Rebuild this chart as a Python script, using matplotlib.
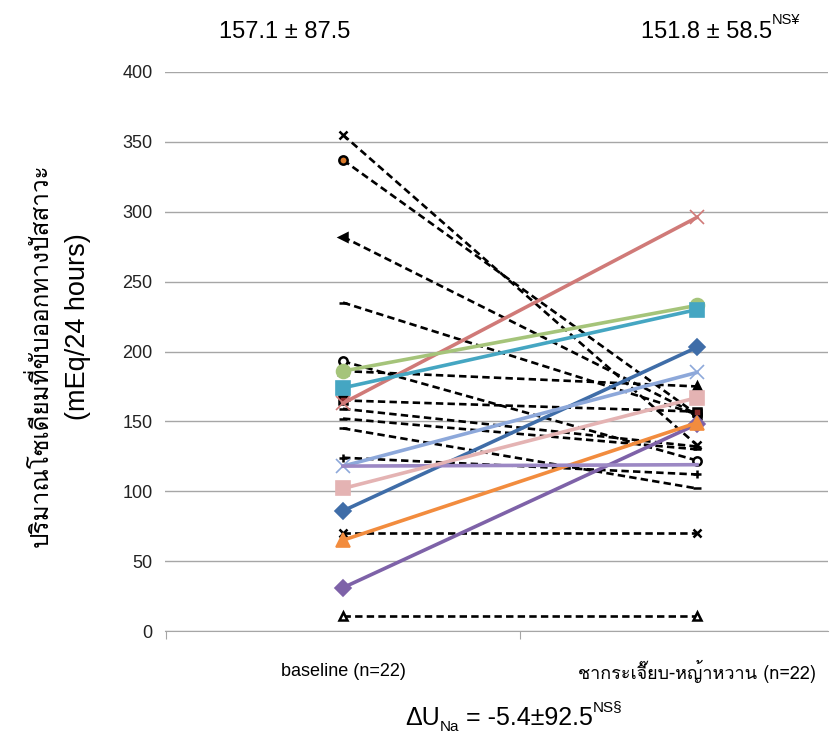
import matplotlib
matplotlib.use("Agg")
import matplotlib.pyplot as plt
from matplotlib import font_manager, ft2font
from matplotlib.transforms import IdentityTransform

# ---------------- data ----------------
categories = ["baseline (n=22)", "ชากระเจี๊ยบ-หญ้าหวาน (n=22)"]
yticks = [0, 50, 100, 150, 200, 250, 300, 350, 400]

# solid coloured series (baseline, after)
s_blue = [86, 203]
s_red = [163, 296]
s_green = [186, 233]
s_purple = [31, 148]
s_teal = [174, 230]
s_orange = [65, 149]
s_lightblue = [118, 185]
s_lightpurple = [118, 119]
s_pink = [102, 167]

# dashed black series (baseline, after)
d1 = [355, 133]
d2 = [337, 155]
d3 = [282, 155]
d4 = [235, 155]
d5 = [193, 122]
d6 = [186, 175]
d7 = [165, 157]
d8 = [159, 132]
d9 = [152, 130]
d10 = [145, 102]
d11 = [124, 112]
d12 = [70, 70]
d13 = [11, 11]

top_left = "157.1 ± 87.5"
top_right = "151.8 ± 58.5"
top_right_sup = "NS¥"
delta_parts = ["ΔU", "Na", " = -5.4±92.5", "NS§"]
ylabel_th = "ปริมาณโซเดียมที่ขับออกทางปัสสาวะ"
ylabel_unit = "(mEq/24 hours)"

# ---------------- fonts ----------------
thai_family = None
for fe in font_manager.fontManager.ttflist:
    try:
        cm = ft2font.FT2Font(fe.fname).get_charmap()
        if 0x0E1B in cm and 0x0E35 in cm:
            thai_family = fe.name
            break
    except Exception:
        pass
base = "Liberation Sans"
fams = [base] + ([thai_family] if thai_family else []) + ["DejaVu Sans"]
fams_th = ([thai_family] if thai_family else []) + [base, "DejaVu Sans"]
plt.rcParams["font.family"] = fams

# ---------------- figure ----------------
W, H = 834, 742
fig = plt.figure(figsize=(W / 100, H / 100), dpi=100)
ax = fig.add_axes([165 / W, 1 - 631 / H, (828 - 165) / W, (631 - 72) / H])

x = [0, 1]
solid = [
    (s_blue, "#3F6DA8", "D", 8),
    (s_red, "#D07A78", "x", 10),
    (s_green, "#A5C47A", "o", 10),
    (s_purple, "#7E62A8", "D", 8),
    (s_teal, "#45A6C2", "s", 10),
    (s_orange, "#F28C3E", "^", 10),
    (s_lightblue, "#8DA8DA", "x", 10),
    (s_lightpurple, "#9C88C4", "", 0),
    (s_pink, "#E4B3B3", "s", 10),
]
dashed = [
    (d1, "x", "k"), (d2, "o", "#D9782A"), (d3, "<", "k"), (d4, "_", "k"),
    (d5, "o", "w"), (d6, "^", "k"), (d7, "s", "#8B2E2E"), (d8, "_", "k"),
    (d9, "_", "k"), (d10, "_", "k"), (d11, "+", "k"), (d12, "x", "k"),
    (d13, "^", "w"),
]

for vals, mk, fc in dashed:
    ax.plot(x, vals, color="black", lw=1.9, ls=(0, (2.8, 1.6)), marker=mk,
            ms=6, mfc=fc, mec="black", mew=1.8, zorder=3)
for vals, col, mk, ms in solid:
    ax.plot(x, vals, color=col, lw=2.6, marker=mk if mk else None, ms=ms,
            mfc=col, mec=col, mew=1.2, zorder=4)

ax.set_xlim(-0.503, 1.370)
ax.set_ylim(0, 400)
ax.set_yticks(yticks)
ax.tick_params(axis="y", labelsize=13, length=0, pad=9, labelcolor="#222222")
ax.grid(axis="y", color="#A6A6A6", lw=1)
ax.set_axisbelow(True)
for s in ["top", "right", "left"]:
    ax.spines[s].set_visible(False)
ax.spines["bottom"].set_color("#A6A6A6")
ax.set_xticks([-0.5, 0.5])
ax.set_xticklabels([])
ax.tick_params(axis="x", length=6, color="#A6A6A6")

for xi, lab in zip(x, categories):
    fam = fams_th if xi == 1 else fams
    ax.text(xi, -29, lab, ha="center", va="center", fontsize=13,
            family=fam, transform=ax.transData, clip_on=False)

renderer = fig.canvas.get_renderer()


def place_run(pieces, x_px, baseline_from_top, align="left"):
    """pieces: (string, fontsize, dy_px). Placed left to right in pixels."""
    base_y = H - baseline_from_top
    arts, cur = [], 0.0
    for s, size, dy in pieces:
        t = fig.text(cur, base_y + dy, s, fontsize=size, ha="left",
                     va="baseline", transform=IdentityTransform())
        cur += t.get_window_extent(renderer).width
        arts.append(t)
    total = cur
    start = x_px if align == "left" else x_px - total / 2
    for t in arts:
        px, py = t.get_position()
        t.set_position((px + start, py))


# top annotations
place_run([(top_left, 17, 0)], 285, 38.5, align="center")
place_run([(top_right, 17, 0), (top_right_sup, 10.5, 15)], 641, 38.5)

# bottom formula
place_run([(delta_parts[0], 18, 0), (delta_parts[1], 11, -6),
           (delta_parts[2], 18, 0), (delta_parts[3], 11, 14)],
          514, 725, align="center")

# y labels
fig.text(40 / W, 1 - 355 / H, ylabel_th, rotation=90, ha="center",
         va="center", fontsize=17.5, family=fams_th)
fig.text(78 / W, 1 - 327 / H, ylabel_unit, rotation=90, ha="center",
         va="center", fontsize=19.5)

fig.savefig("out.png", dpi=100)
